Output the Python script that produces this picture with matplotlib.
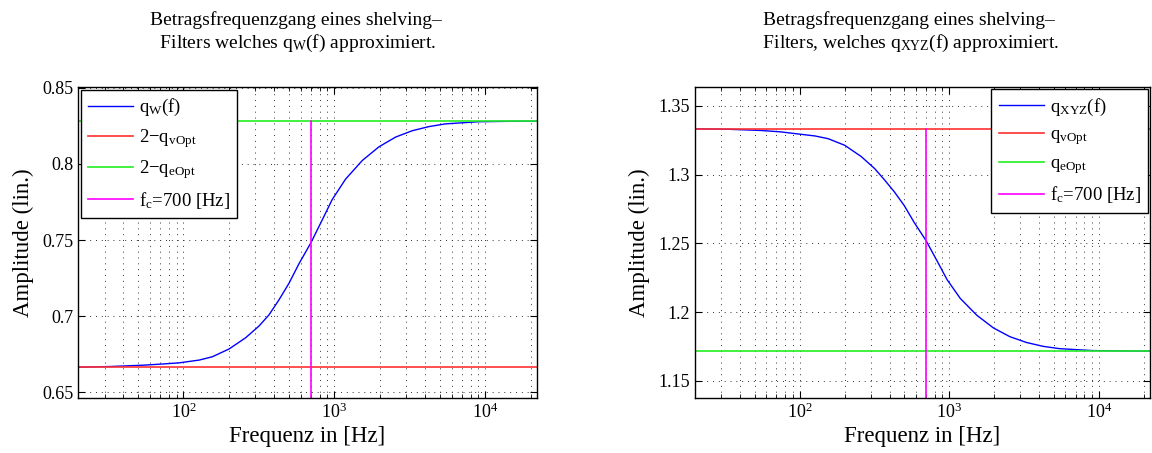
import numpy as np
import matplotlib
matplotlib.use('Agg')
import matplotlib.pyplot as plt
from matplotlib.ticker import LogLocator, NullFormatter

plt.rcParams['font.family'] = ['Liberation Serif', 'DejaVu Serif']
plt.rcParams['mathtext.fontset'] = 'custom'
plt.rcParams['mathtext.rm'] = 'Liberation Serif'
plt.rcParams['mathtext.it'] = 'Liberation Serif:italic'

# values
freq = [20, 33, 55, 74.5, 93.6, 127, 155.5, 200.6, 258.6, 317, 369, 430, 501, 584, 700,
        832, 969, 1188, 1532, 1976, 2548, 3288, 4239, 5465, 9085, 15000, 22050]
q_w = [0.6664, 0.6669, 0.6678, 0.6686, 0.6693, 0.6711, 0.6733, 0.6784, 0.6858, 0.6935,
       0.7008, 0.7107, 0.7216, 0.7345, 0.7482, 0.7632, 0.7766, 0.7900, 0.8022, 0.8112,
       0.8176, 0.8218, 0.8245, 0.8263, 0.8277, 0.8280, 0.8281]
q_xyz = [1.3334, 1.3331, 1.3322, 1.3312, 1.3299, 1.3282, 1.3262, 1.3214, 1.3132, 1.3046,
         1.2964, 1.2876, 1.2776, 1.2653, 1.2522, 1.2372, 1.2237, 1.2100, 1.1978, 1.1886,
         1.1822, 1.1780, 1.1752, 1.1735, 1.1721, 1.1718, 1.1717]
q_vopt = 1.3333
q_eopt = 1.1716
fc = 700
f_range = [20, 22050]

fig = plt.figure(figsize=(11.52, 4.53), dpi=100)
ax1 = fig.add_axes([0.0677, 0.1214, 0.3984, 0.6865])
ax2 = fig.add_axes([0.6033, 0.1214, 0.395, 0.6865])

dots = (0, (1, 5))


def style(ax, ylim, yticks):
    ax.set_xscale('log')
    ax.set_xlim(f_range)
    ax.set_ylim(ylim)
    ax.set_yticks(yticks)
    ax.set_yticklabels([('%g' % v) for v in yticks])
    ax.xaxis.set_minor_locator(LogLocator(base=10, subs=np.arange(2, 10)))
    ax.xaxis.set_minor_formatter(NullFormatter())
    ax.tick_params(which='both', direction='in', top=True, right=True, labelsize=13)
    ax.tick_params(which='major', length=5)
    ax.tick_params(which='minor', length=3)
    ax.grid(True, which='major', linestyle=dots, color='#333333', linewidth=0.7)
    ax.grid(True, which='minor', axis='x', linestyle=dots, color='#333333', linewidth=0.7)
    ax.set_xlabel('Frequenz in [Hz]', fontsize=16.5, labelpad=3)
    ax.set_ylabel('Amplitude (lin.)', fontsize=16.5, labelpad=6)
    for s in ax.spines.values():
        s.set_linewidth(1.0)


leg_kw = dict(fontsize=13.5, fancybox=False, framealpha=1, edgecolor='k',
              handlelength=2.4, handletextpad=0.3, labelspacing=0.45)
title_kw = dict(fontsize=14, linespacing=1.25, pad=28)

# left plot
style(ax1, (0.6462, 0.8505), [0.65, 0.7, 0.75, 0.8, 0.85])
ax1.plot(freq, q_w, color='#0000ff', lw=1, label='q$_\\mathrm{W}$(f)')
ax1.plot(f_range, [2 - q_vopt] * 2, color='#ff3030', lw=1.2, label='2\u2212q$_\\mathrm{vOpt}$')
ax1.plot(f_range, [2 - q_eopt] * 2, color='#22ee22', lw=1.2, label='2\u2212q$_\\mathrm{eOpt}$')
ax1.plot([fc, fc], [0.6462, 2 - q_eopt], color='#ff00ff', lw=1.2, label='f$_\\mathrm{c}$=700 [Hz]')
ax1.set_title('Betragsfrequenzgang eines shelving\u2013\n Filters welches q$_\\mathrm{W}$(f) approximiert.',
              x=0.475, **title_kw)
leg1 = ax1.legend(loc='upper left', borderaxespad=0.15, **leg_kw)
leg1.get_frame().set_linewidth(1.0)

# right plot
style(ax2, (1.1376, 1.3638), [1.15, 1.2, 1.25, 1.3, 1.35])
ax2.plot(freq, q_xyz, color='#0000ff', lw=1, label='q$_\\mathrm{XYZ}$(f)')
ax2.plot(f_range, [q_vopt] * 2, color='#ff3030', lw=1.2, label='q$_\\mathrm{vOpt}$')
ax2.plot(f_range, [q_eopt] * 2, color='#22ee22', lw=1.2, label='q$_\\mathrm{eOpt}$')
ax2.plot([fc, fc], [1.1376, q_vopt], color='#ff00ff', lw=1.2, label='f$_\\mathrm{c}$=700 [Hz]')
ax2.set_title('Betragsfrequenzgang eines shelving\u2013\n Filters, welches q$_\\mathrm{XYZ}$(f) approximiert.',
              x=0.47, **title_kw)
leg2 = ax2.legend(loc='upper right', borderaxespad=0.1, **leg_kw)
leg2.get_frame().set_linewidth(1.0)

fig.savefig('out.png', dpi=100)
